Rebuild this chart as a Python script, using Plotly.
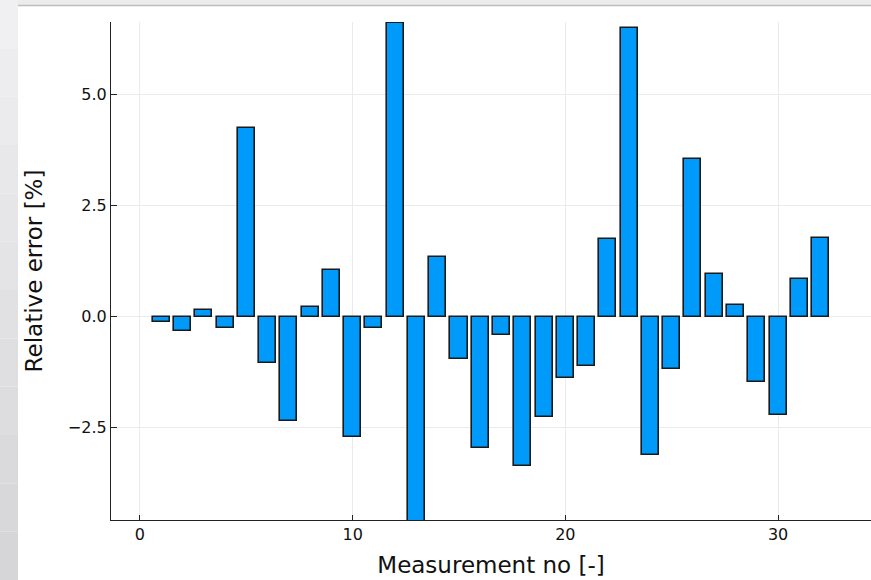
import plotly.graph_objects as go

measurement_no = list(range(1, 33))
relative_error = [
    -0.12, -0.32, 0.15, -0.25, 4.25, -1.04, -2.36, 0.22, 1.04, -2.71,
    -0.25, 6.60, -4.70, 1.35, -0.95, -2.96, -0.41, -3.36, -2.27, -1.39,
    -1.11, 1.75, 6.49, -3.11, -1.19, 3.55, 0.95, 0.26, -1.48, -2.22,
    0.85, 1.76,
]
x_ticks = [0, 10, 20, 30]
y_ticks = [-2.5, 0.0, 2.5, 5.0]
y_tick_text = ["\u22122.5", "0.0", "2.5", "5.0"]

W, H = 871, 580
L, R, T, B = 111, 0, 22, 60
pw, ph = W - L - R, H - T - B


def px_x(p):
    return (p - L) / pw


def px_y(p):
    return (H - B - p) / ph


fig = go.Figure()
fig.add_trace(go.Bar(
    x=measurement_no, y=relative_error, width=0.8,
    marker=dict(color="#009AFA", line=dict(color="#1a1a1a", width=1.6)),
))

shapes = []
# screenshot frame: top strip and left gradient strip
shapes.append(dict(type="rect", xref="paper", yref="paper", x0=px_x(0), x1=px_x(W),
                   y0=px_y(5), y1=px_y(0), fillcolor="#ececec", line=dict(width=0), layer="above"))
shapes.append(dict(type="line", xref="paper", yref="paper", x0=px_x(18), x1=px_x(W),
                   y0=px_y(5.5), y1=px_y(5.5), line=dict(color="#bdbdbd", width=1.5), layer="above"))
nb = 12
for i in range(nb):
    g = int(240 - (240 - 214) * i / (nb - 1))
    col = f"rgb({g},{g},{g+2})"
    shapes.append(dict(type="rect", xref="paper", yref="paper", x0=px_x(0), x1=px_x(18),
                       y0=px_y(H * (i + 1) / nb), y1=px_y(H * i / nb),
                       fillcolor=col, line=dict(width=0), layer="above"))

fig.update_layout(
    width=W, height=H,
    margin=dict(l=L, r=R, t=T, b=B, pad=0),
    paper_bgcolor="white", plot_bgcolor="white",
    font=dict(family="DejaVu Sans", color="#111111"),
    showlegend=False,
    bargap=0,
    shapes=shapes,
    xaxis=dict(
        range=[-1.36, 34.37], tickvals=x_ticks, ticks="inside", ticklen=5,
        tickcolor="#222", tickwidth=1,
        showgrid=True, gridcolor="#ebebeb", gridwidth=1, zeroline=False,
        showline=True, linecolor="#222", linewidth=1.2, mirror=False,
        tickfont=dict(size=16, family="DejaVu Sans", color="#111"),
        title=dict(text="Measurement no [-]", font=dict(size=23, family="DejaVu Sans", color="#111"), standoff=13),
    ),
    yaxis=dict(
        range=[-4.58, 6.63], tickvals=y_ticks, ticktext=y_tick_text, ticks="inside", ticklen=6,
        tickcolor="#222", tickwidth=1,
        showgrid=True, gridcolor="#ebebeb", gridwidth=1, zeroline=False,
        showline=True, linecolor="#222", linewidth=1.2, mirror=False,
        tickfont=dict(size=16, family="DejaVu Sans", color="#111"),
        title=dict(text="Relative error [%]", font=dict(size=23, family="DejaVu Sans", color="#111"), standoff=18),
    ),
)

fig.write_html(
    "out.html",
    config={"displayModeBar": False},
    post_script="document.body.style.margin='0';document.body.style.overflow='hidden';",
)
